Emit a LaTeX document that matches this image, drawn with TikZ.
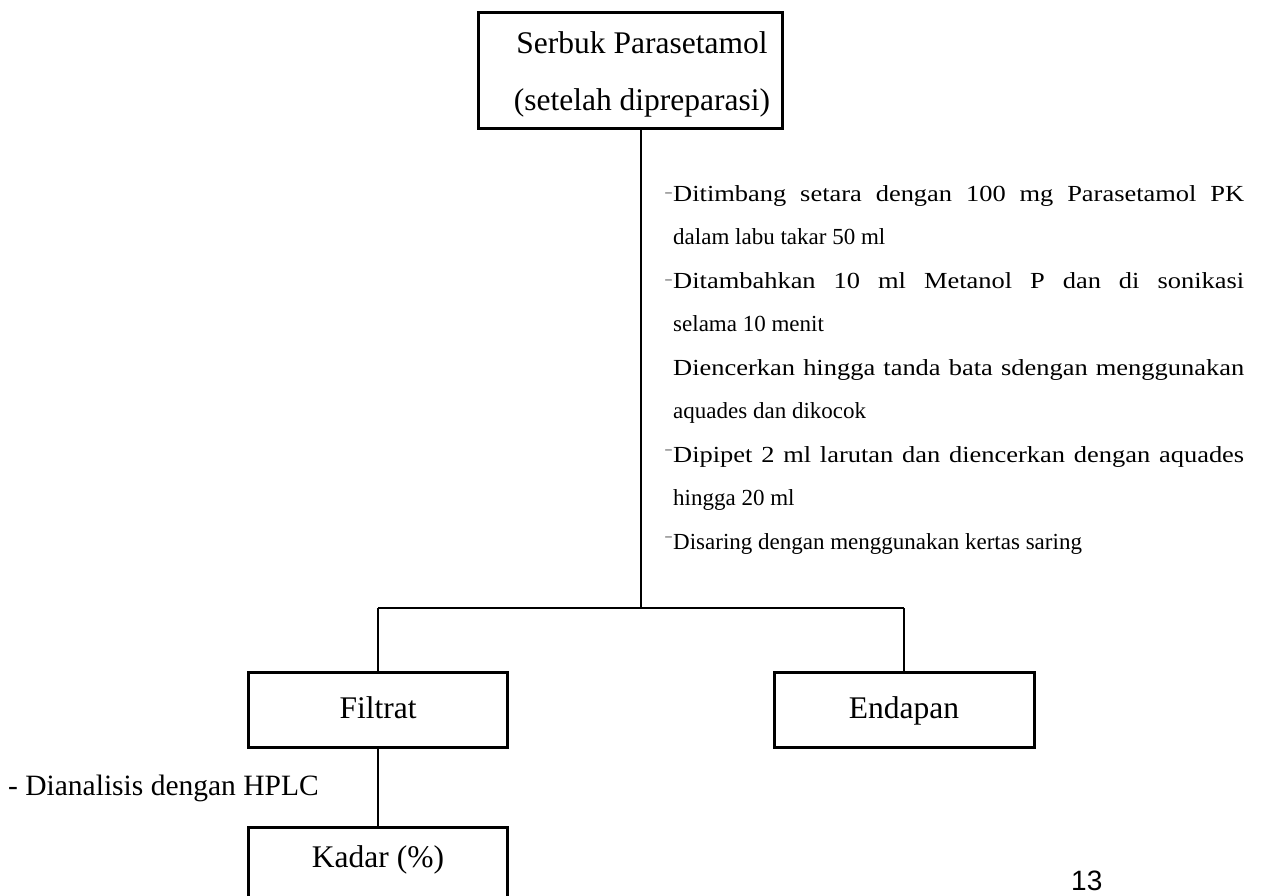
\documentclass[tikz,border=0pt]{standalone}
\usepackage{fontspec}
\setmainfont{Liberation Serif}
\newfontfamily\widefont[FakeStretch=1.15]{Liberation Serif}
\newfontfamily\pagenumfont{Liberation Sans}
\begin{document}
\begin{tikzpicture}[x=1pt,y=-1pt,
  box/.style={draw, line width=3pt, inner sep=0pt},
  conn/.style={line width=1.3pt},
  lbl/.style={font=\fontsize{31.5}{31.5}\selectfont, inner sep=0pt, anchor=base},
  txt/.style={font=\fontsize{23}{23}\selectfont, inner sep=0pt, anchor=base west},
  jtxt/.style={font=\widefont\fontsize{23}{23}\selectfont, inner sep=0pt, anchor=base west},
  dashmark/.style={font=\fontsize{13}{13}\selectfont, inner sep=0pt, anchor=base east}]
\useasboundingbox (0,0) rectangle (1264,895);
\clip (0,0) rectangle (1264,895);
% boxes
\node[box, minimum width=304pt, minimum height=116pt] (top) at (630,70) {};
\node[box, minimum width=259pt, minimum height=75pt] (filtrat) at (378,709.5) {};
\node[box, minimum width=260pt, minimum height=75pt] (endapan) at (904,709.5) {};
\node[box, minimum width=259pt, minimum height=100pt] (kadar) at (378,877) {};
% labels
\node[lbl] (t1) at (642,53) {Serbuk Parasetamol};
\node[lbl] (t2) at (642,110) {(setelah dipreparasi)};
\node[lbl] (tf) at (378,718) {Filtrat};
\node[lbl] (te) at (904,718) {Endapan};
\node[lbl] (tk) at (378,867) {Kadar (\%)};
\node[lbl, anchor=base west, font=\fontsize{29.5}{29.5}\selectfont] (hplc) at (8,795) {- Dianalisis dengan HPLC};
\node[inner sep=0pt, anchor=base west, font=\pagenumfont\fontsize{28}{28}\selectfont] (pg) at (1071,890) {13};
% procedure text
\node[jtxt] (l1) at (673,201) {\makebox[571pt][s]{Ditimbang setara dengan 100 mg Parasetamol PK}};
\node[txt] (l2) at (673,244.5) {dalam labu takar 50 ml};
\node[jtxt] (l3) at (673,288) {\makebox[571pt][s]{Ditambahkan 10 ml Metanol P dan di sonikasi}};
\node[txt] (l4) at (673,331.5) {selama 10 menit};
\node[jtxt] (l5) at (673,375) {\makebox[571pt][s]{Diencerkan hingga tanda bata sdengan menggunakan}};
\node[txt] (l6) at (673,418.5) {aquades dan dikocok};
\node[jtxt] (l7) at (673,462) {\makebox[571pt][s]{Dipipet 2 ml larutan dan diencerkan dengan aquades}};
\node[txt] (l8) at (673,505.5) {hingga 20 ml};
\node[txt] (l9) at (673,549) {Disaring dengan menggunakan kertas saring};
\node[dashmark] (d1) at (672,196) {--};
\node[dashmark] (d3) at (672,283) {--};
\node[dashmark] (d7) at (672,453) {--};
\node[dashmark] (d9) at (672,540) {--};
% connectors
\coordinate (j) at (641,608);
\coordinate (jl) at (378,608);
\coordinate (jr) at (904,608);
\draw[conn] (j |- top.south) -- (j);
\draw[conn] (jl) -- (jr);
\draw[conn] (jl) -- (filtrat.north);
\draw[conn] (jr) -- (endapan.north);
\draw[conn] (filtrat.south) -- (kadar.north);
\end{tikzpicture}
\end{document}
